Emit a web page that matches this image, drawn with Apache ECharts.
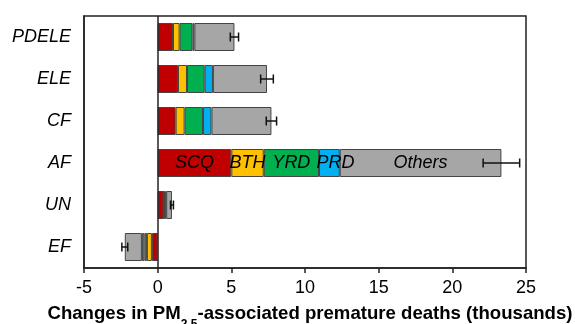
<!DOCTYPE html>
<html>
<head>
<meta charset="utf-8">
<script src="https://cdn.jsdelivr.net/npm/echarts@6/dist/echarts.min.js"></script>
<style>
  html, body { margin: 0; padding: 0; background: #fff; }
  #chart { width: 575px; height: 324px; }
</style>
</head>
<body>
<div id="chart"></div>
<script>
// categories, top to bottom
var categories = ['PDELE', 'ELE', 'CF', 'AF', 'UN', 'EF'];
// contribution of each region (thousands of deaths)
var scq = [1.04, 1.38, 1.22, 5.0, 0.40, -0.39];
var bth = [0.45, 0.61, 0.61, 2.2, 0.03, -0.34];
var yrd = [0.87, 1.20, 1.25, 3.75, 0.10, -0.17];
var prd = [0.13, 0.56, 0.57, 1.41, 0.05, -0.17];
var others = [2.72, 3.67, 4.07, 10.97, 0.39, -1.16];
// half width of the error bars
var errors = [0.28, 0.43, 0.35, 1.24, 0.10, 0.20];
var xTicks = [-5, 0, 5, 10, 15, 20, 25];

var font = '"Liberation Sans", Arial, Helvetica, sans-serif';
var regionNames = ['SCQ', 'BTH', 'YRD', 'PRD', 'Others'];
var regionData = [scq, bth, yrd, prd, others];
var colors = ['#c00000', '#ffc000', '#00b050', '#00b0f0', '#a6a6a6'];

var totals = categories.map(function(c, i) {
    return scq[i] + bth[i] + yrd[i] + prd[i] + others[i];
});

var myChart = echarts.init(document.getElementById('chart'));

var series = regionNames.map(function(name, k) {
    return {
        name: name,
        type: 'bar',
        stack: 'total',
        barWidth: 28,
        itemStyle: { color: colors[k], borderColor: '#444', borderWidth: 1 },
        data: regionData[k].map(function(v, i) {
            var item = { value: v };
            // region names are only written inside the AF bar
            if (categories[i] === 'AF') {
                item.label = {
                    show: true,
                    position: 'inside',
                    formatter: name,
                    offset: name === 'PRD' ? [6, 0] : [0, 0],
                    color: '#000',
                    fontSize: 18,
                    fontStyle: 'italic',
                    fontFamily: font
                };
            }
            return item;
        })
    };
});

// zero line
series[0].markLine = {
    silent: true,
    symbol: 'none',
    label: { show: false },
    lineStyle: { color: '#222', width: 1.5, type: 'solid' },
    data: [{ xAxis: 0 }]
};

// error bars
series.push({
    type: 'custom',
    z: 10,
    encode: { x: 0, y: 1 },
    data: totals.map(function(t, i) { return [t, i, errors[i]]; }),
    renderItem: function(params, api) {
        var t = api.value(0), y = api.value(1), e = api.value(2);
        var p1 = api.coord([t - e, y]);
        var p2 = api.coord([t + e, y]);
        var h = 4.5;
        var style = { stroke: '#111', lineWidth: 1.5 };
        return {
            type: 'group',
            children: [
                { type: 'line', shape: { x1: p1[0], y1: p1[1], x2: p2[0], y2: p2[1] }, style: style },
                { type: 'line', shape: { x1: p1[0], y1: p1[1] - h, x2: p1[0], y2: p1[1] + h }, style: style },
                { type: 'line', shape: { x1: p2[0], y1: p2[1] - h, x2: p2[0], y2: p2[1] + h }, style: style }
            ]
        };
    }
});

var option = {
    animation: false,
    grid: {
        left: 84, right: 49, top: 16, bottom: 56,
        containLabel: false,
        outerBoundsMode: 'none',
        show: true, borderColor: '#222', borderWidth: 1.5, backgroundColor: '#fff'
    },
    xAxis: {
        type: 'value',
        min: -5, max: 25, interval: 5,
        axisLine: { show: true, onZero: false, lineStyle: { color: '#222', width: 1.5 } },
        axisTick: { show: true, inside: false, length: 5, lineStyle: { color: '#222', width: 1.5 } },
        splitLine: { show: false },
        axisLabel: {
            color: '#000', fontSize: 18, fontFamily: font, margin: 11,
            customValues: xTicks
        },
        name: '{b|Changes in PM}{s|2.5}{b|-associated premature deaths (thousands)}',
        nameLocation: 'middle',
        nameGap: 36,
        nameTextStyle: {
            padding: [0, 0, 0, 10],
            rich: {
                b: { fontSize: 18.6, fontWeight: 'bold', fontFamily: font, color: '#000', verticalAlign: 'top', lineHeight: 22 },
                s: { fontSize: 12, fontWeight: 'bold', fontFamily: font, color: '#000', verticalAlign: 'top', lineHeight: 14, padding: [15, 0, 0, 0] }
            }
        }
    },
    yAxis: {
        type: 'category',
        inverse: true,
        data: categories,
        axisLine: { show: true, onZero: false, lineStyle: { color: '#222', width: 1.5 } },
        axisTick: { show: false },
        axisLabel: {
            color: '#000', fontSize: 18, fontStyle: 'italic', fontFamily: font, margin: 13
        }
    },
    series: series
};

myChart.setOption(option);
</script>
</body>
</html>
